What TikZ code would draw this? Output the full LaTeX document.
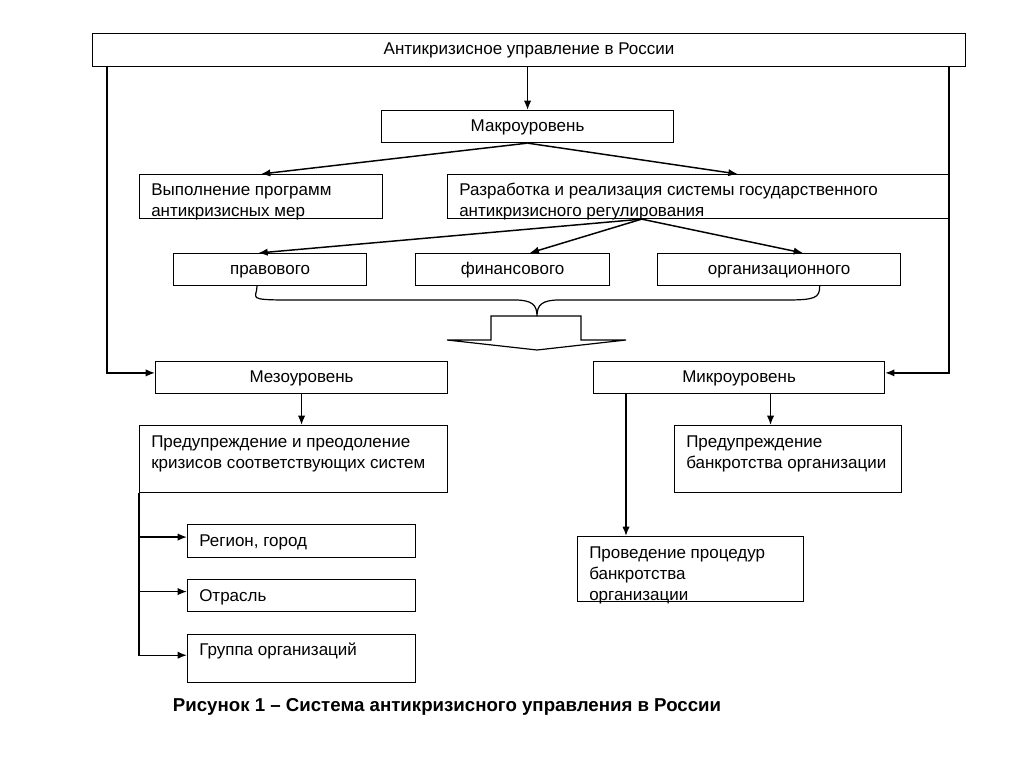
\documentclass[tikz,border=0pt]{standalone}
\usepackage{fontspec}
\setmainfont{Liberation Sans}
\usetikzlibrary{arrows.meta}
\begin{document}
\begin{tikzpicture}[x=0.75pt,y=-0.75pt,
  every node/.style={font=\fontsize{12.75}{15.6}\selectfont},
  box/.style={draw, line width=0.85pt, inner sep=0, anchor=north west, text height=9.5pt, text depth=2.5pt},
  sz/.style 2 args={minimum width=#1*0.75pt, minimum height=#2*0.75pt},
  txt/.style={anchor=base west, inner sep=0, align=left},
  arr/.style={-{Latex[length=7pt,width=5.5pt]}, line width=1.1pt},
  ln/.style={line width=0.9pt},
]
\useasboundingbox[fill=white] (0,0) rectangle (1024,767);
% boxes
\node[box,sz={873}{33}] (top) at (92,33) {Антикризисное управление в России};
\node[box,sz={292}{32}] (makro) at (381,110) {Макроуровень};
\node[box,sz={243}{44}] (vyp) at (139,174) {};
\node[box,sz={501}{44}] (razr) at (447,174) {};
\node[box,sz={193}{32}] (prav) at (173,253) {правового};
\node[box,sz={194}{32}] (fin) at (415,253) {финансового};
\node[box,sz={243}{32}] (org) at (657,253) {организационного};
\node[box,sz={292}{32}] (mezo) at (155,361) {Мезоуровень};
\node[box,sz={291}{32}] (micro) at (593,361) {Микроуровень};
\node[box,sz={308}{67}] (pred) at (139,425) {};
\node[box,sz={228}{33}] (reg) at (187,524) {};
\node[box,sz={228}{32}] (otr) at (187,579) {};
\node[box,sz={228}{48}] (grp) at (187,634) {};
\node[box,sz={227}{67}] (predb) at (674,425) {};
\node[box,sz={226}{65}] (prov) at (577,536) {};
% texts (anchored at the baseline of the last line)
\node[txt] (tvyp) at (151,216) {Выполнение программ\\антикризисных мер};
\node[txt] (trazr) at (459,216) {Разработка и реализация системы государственного\\антикризисного регулирования};
\node[txt] (tpred) at (151,468) {Предупреждение и преодоление\\кризисов соответствующих систем};
\node[txt] (treg) at (199,546) {Регион, город};
\node[txt] (totr) at (199,601) {Отрасль};
\node[txt] (tgrp) at (199,655) {Группа организаций};
\node[txt] (tpredb) at (686,468) {Предупреждение\\банкротства организации};
\node[txt] (tprov) at (589,600) {Проведение процедур\\банкротства\\организации};
\node[font=\fontsize{14}{16}\selectfont\bfseries] (cap) at (447,707) {Рисунок 1 – Система антикризисного управления в России};
% connectors
\draw[arr] (top.south -| makro.north) -- (makro.north);
\draw[arr] (makro.south) -- (vyp.north);
\draw[arr] (makro.south) -- ([xshift=218pt]razr.north west);
\coordinate (fork) at ([xshift=146pt]razr.south west);
\draw[arr] (fork) -- ([xshift=64pt]prav.north west);
\draw[arr] (fork) -- ([xshift=86pt]fin.north west);
\draw[arr] (fork) -- ([xshift=109.5pt]org.north west);
\draw[arr] ([xshift=11.25pt]top.south west) |- ([yshift=3.5pt]mezo.west);
\draw[arr] ([xshift=-12.75pt]top.south east) |- ([yshift=3.5pt]micro.east);
\draw[arr] (mezo.south) -- (mezo.south |- pred.north);
\draw[arr] (pred.south west) |- ([yshift=3pt]reg.west);
\draw[arr] (pred.south west) |- ([yshift=3pt]otr.west);
\draw[arr] (pred.south west) |- ([yshift=2.5pt]grp.west);
\draw[arr] ([xshift=23.6pt]micro.south) -- ([xshift=23.6pt]micro.south |- predb.north);
\draw[arr] ([xshift=24.75pt]micro.south west) -- ([xshift=24.75pt]micro.south west |- prov.north);
% brace
\coordinate (bl) at ([xshift=63pt]prav.south west);
\coordinate (br) at ([xshift=122pt]org.south west);
\coordinate (cusp) at (537,316);
\draw[ln] (bl) .. controls ++(0,12) and (245,300) .. (290,300) -- (515,300)
  .. controls (532,300) and (537,305) .. (cusp)
  .. controls (537,305) and (542,300) .. (559,300) -- (785,300)
  .. controls (815,300) and ([yshift=-9pt]br) .. (br);
% block arrow
\draw[ln] (cusp) -- (491,316) -- (491,340) -- (447,340) -- (537,350) -- (626,340) -- (581,340) -- (581,316) -- cycle;
\end{tikzpicture}
\end{document}
